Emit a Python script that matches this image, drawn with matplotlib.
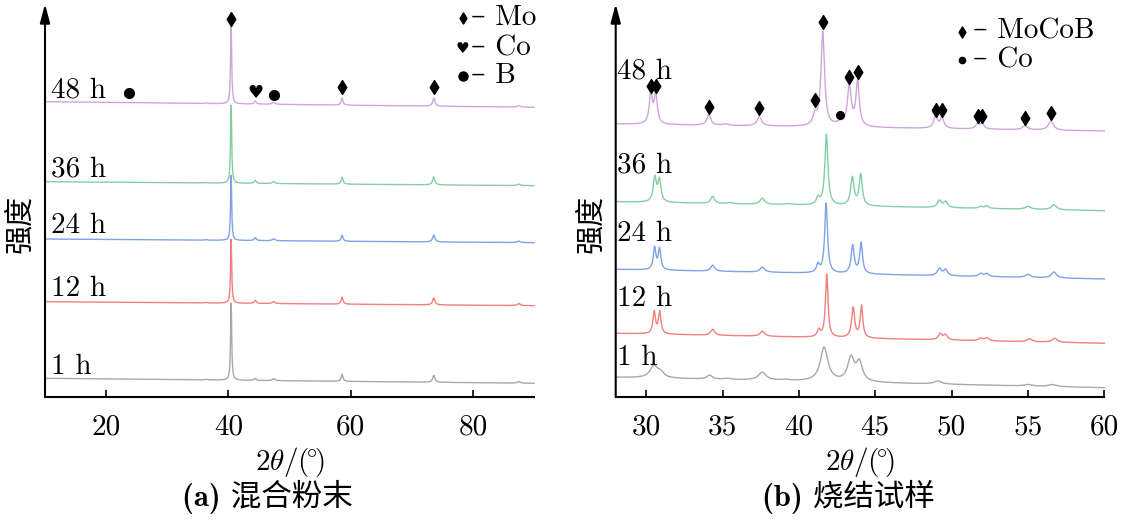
import numpy as np
import matplotlib
matplotlib.use("Agg")
import matplotlib.pyplot as plt
from matplotlib.path import Path

plt.rcParams['font.family'] = ['cmr10', 'Noto Sans CJK SC', 'DejaVu Serif']
plt.rcParams['mathtext.fontset'] = 'cm'
plt.rcParams['axes.unicode_minus'] = False

# ---------------- data: (a) mixed powder ----------------
a_labels = ['1 h', '12 h', '24 h', '36 h', '48 h']
a_base_start = [18.7, 95.3, 158.0, 215.3, 295.3]
a_base_end = [13.7, 91.3, 154.3, 211.3, 289.7]
a_peak_pos = [36.3, 40.45, 44.4, 47.4, 58.6, 73.6, 87.5]
a_peak_wid = [0.25, 0.11, 0.2, 0.25, 0.18, 0.22, 0.3]
a_h_1h = [0.6, 77, 2.0, 2.0, 7, 7, 1.5]
a_h_12h = [0.6, 64, 3.0, 2.0, 7, 7, 2.0]
a_h_24h = [0.6, 65, 3.0, 2.0, 6, 7, 1.5]
a_h_36h = [0.6, 78, 3.0, 2.0, 7, 8, 1.5]
a_h_48h = [0.6, 79, 3.0, 2.0, 7, 8, 1.5]
a_mo_x = [40.45, 58.6, 73.6]
a_mo_y = [378, 309.7, 309.7]
a_co_x = [44.5]
a_co_y = [304.3]
a_b_x = [23.8, 47.4]
a_b_y = [304.3, 302]
a_xticks = [20, 40, 60, 80]

# ---------------- data: (b) sintered samples ----------------
b_labels = ['1 h', '12 h', '24 h', '36 h', '48 h']
b_base_start = [19.7, 63.7, 127.7, 195.3, 273.0]
b_base_end = [9.3, 53.7, 118.0, 186.3, 266.0]
b_pos_1h = [30.5, 30.95, 34.15, 35.3, 37.6, 39.1, 41.65, 43.4, 43.95, 49.1, 55.0, 56.6]
b_h_1h = [12, 5, 4, 1, 8, 1, 34, 23, 19, 3, 1.5, 2]
b_w_1h = [0.3, 0.25, 0.2, 0.3, 0.3, 0.3, 0.3, 0.25, 0.25, 0.3, 0.3, 0.3]
b_pos_12h = [30.52, 30.88, 34.35, 37.6, 41.3, 41.82, 43.55, 44.1, 49.25, 49.6, 51.9, 52.3, 55.1, 56.75]
b_h_12h = [22, 22, 6, 5, 7, 63, 30, 32, 6, 5, 2.5, 3, 3, 4]
b_w_12h = [0.1, 0.1, 0.15, 0.18, 0.12, 0.1, 0.12, 0.1, 0.15, 0.15, 0.15, 0.15, 0.2, 0.2]
b_pos_24h = [30.55, 30.87, 34.35, 37.6, 41.25, 41.78, 43.52, 44.07, 49.2, 49.6, 51.9, 52.3, 55.0, 56.7]
b_h_24h = [22, 21, 6, 5, 8, 70, 28, 31, 7, 6, 3, 3, 3, 6]
b_w_24h = [0.1, 0.1, 0.15, 0.18, 0.12, 0.11, 0.12, 0.11, 0.15, 0.15, 0.15, 0.15, 0.2, 0.2]
b_pos_36h = [30.56, 30.86, 34.35, 35.5, 37.6, 39.3, 41.25, 41.8, 43.5, 44.05, 49.2, 49.6, 51.9, 52.3, 55.0, 56.7]
b_h_36h = [24, 22, 7, 1, 6, 1, 7, 71, 28, 31, 7, 6, 2, 2.5, 3, 5]
b_w_36h = [0.12, 0.12, 0.15, 0.2, 0.18, 0.3, 0.12, 0.12, 0.13, 0.12, 0.15, 0.15, 0.15, 0.15, 0.2, 0.2]
b_pos_48h = [30.3, 30.62, 34.1, 35.2, 37.4, 41.05, 41.56, 42.67, 43.3, 43.84, 48.95, 49.37, 51.7, 52.0, 54.8, 56.5]
b_h_48h = [31, 30, 11, 1.5, 9, 10, 94, 3, 40, 45, 12, 10, 5, 5, 4, 9]
b_w_48h = [0.12, 0.12, 0.15, 0.2, 0.18, 0.15, 0.14, 0.3, 0.15, 0.13, 0.15, 0.15, 0.15, 0.15, 0.2, 0.2]
b_mocob_x = [30.3, 30.62, 34.1, 37.4, 41.05, 41.56, 43.3, 43.84, 48.95, 49.37, 51.7, 52.0, 54.8, 56.5]
b_mocob_y = [311, 311, 290.3, 289, 297, 375.3, 320, 325.3, 287, 287, 281, 281, 278.7, 283.7]
b_co_x = [42.67]
b_co_y = [282]
b_xticks = [30, 35, 40, 45, 50, 55, 60]

colors = ['#a8a8a8', '#f28080', '#7fa3e6', '#84cfa2', '#cfa6dc']

diamond = Path([(0, 1), (0.62, 0), (0, -1), (-0.62, 0), (0, 1)],
               [Path.MOVETO, Path.LINETO, Path.LINETO, Path.LINETO, Path.CLOSEPOLY])


def profile(x, start, end, pos, h, w):
    y = start + (end - start) * (x - x[0]) / (x[-1] - x[0])
    for p, hh, ww in zip(pos, h, w):
        y = y + hh / (1.0 + ((x - p) / ww) ** 2)
    return y


W, H = 1127, 521
fig = plt.figure(figsize=(W / 100, H / 100), dpi=100)

y_bot = 397
y_top = 4
axa = fig.add_axes([45 / W, (H - y_bot) / H, (534 - 45) / W, (y_bot - y_top) / H])
axb = fig.add_axes([615.7 / W, (H - y_bot) / H, (1104.3 - 615.7) / W, (y_bot - y_top) / H])


def style(ax, xlim, ticks):
    ax.set_xlim(*xlim)
    ax.set_ylim(0, y_bot - y_top)
    for s in ['top', 'right', 'left']:
        ax.spines[s].set_visible(False)
    ax.spines['bottom'].set_linewidth(1.5)
    ax.set_yticks([])
    ax.set_xticks(ticks)
    ax.set_xticklabels([str(t) for t in ticks])
    ax.tick_params(axis='x', direction='in', length=5, width=1.2, pad=12,
                   labelsize=21)
    ax.annotate('', xy=(0, 1.0), xytext=(0, 0), xycoords='axes fraction',
                arrowprops=dict(arrowstyle='-|>,head_length=0.75,head_width=0.2',
                                color='k', lw=1.5, mutation_scale=15,
                                shrinkA=0, shrinkB=0))
    ax.set_xlabel(r'$2\theta/(\!{}^{\circ}\!)$', fontsize=21)
    ax.xaxis.set_label_coords(0.5, -0.122)
    ax.set_ylabel('强度', fontsize=21, family=['Noto Sans CJK SC'])
    ax.yaxis.set_label_coords(-0.02, 0.44)


style(axa, (10, 90), a_xticks)
style(axb, (28, 60), b_xticks)

# panel (a)
xa = np.linspace(10, 90, 8001)
a_heights = [a_h_1h, a_h_12h, a_h_24h, a_h_36h, a_h_48h]
a_label_y = [23, 101, 163.7, 220.3, 299.3]
for i in range(5):
    ya = profile(xa, a_base_start[i], a_base_end[i], a_peak_pos, a_heights[i], a_peak_wid)
    axa.plot(xa, ya, color=colors[i], lw=1.0, clip_on=False)
    axa.text(10.9, a_label_y[i], a_labels[i], fontsize=21, ha='left', va='baseline')

axa.plot(a_mo_x, a_mo_y, ls='none', marker=diamond, ms=10, color='k', clip_on=False)
axa.plot(a_b_x, a_b_y, ls='none', marker='o', ms=7, color='k', clip_on=False)
for x, y in zip(a_co_x, a_co_y):
    axa.text(x, y, '\u2665', family=['DejaVu Sans'], fontsize=13, ha='center', va='center')

# legend (a)
axa.plot([78.35], [378.7], marker=diamond, ms=8, color='k', clip_on=False)
axa.text(78.35, 348.7, '\u2665', family=['DejaVu Sans'], fontsize=11, ha='center', va='center')
axa.plot([78.35], [321], marker='o', ms=6.5, color='k', clip_on=False)
for yy, lab in zip([378.7, 348.7, 321], ['Mo', 'Co', 'B']):
    axa.text(79.7, yy, '\u2013 ' + lab, fontsize=21, ha='left', va='center',
             family=['cmr10', 'DejaVu Serif'])

# panel (b)
xb = np.linspace(28, 60, 6401)
b_pos = [b_pos_1h, b_pos_12h, b_pos_24h, b_pos_36h, b_pos_48h]
b_h = [b_h_1h, b_h_12h, b_h_24h, b_h_36h, b_h_48h]
b_w = [b_w_1h, b_w_12h, b_w_24h, b_w_36h, b_w_48h]
b_label_y = [32, 91, 156.3, 224.3, 318.7]
for i in range(5):
    yb = profile(xb, b_base_start[i], b_base_end[i], b_pos[i], b_h[i], b_w[i])
    axb.plot(xb, yb, color=colors[i], lw=1.0, clip_on=False)
    axb.text(28.1, b_label_y[i], b_labels[i], fontsize=21, ha='left', va='baseline')

axb.plot(b_mocob_x, b_mocob_y, ls='none', marker=diamond, ms=10, color='k', clip_on=False)
axb.plot(b_co_x, b_co_y, ls='none', marker='o', ms=5.5, color='k', clip_on=False)

# legend (b)
axb.plot([50.7], [365.3], marker=diamond, ms=8, color='k', clip_on=False)
axb.plot([50.7], [337], marker='o', ms=4.5, color='k', clip_on=False)
for yy, lab in zip([365.3, 337], ['MoCoB', 'Co']):
    axb.text(51.4, yy, '\u2013 ' + lab, fontsize=21, ha='left', va='center',
             family=['cmr10', 'DejaVu Serif'])

# captions
fig.text(0.237, (H - 497) / H, '(a) 混合粉末', fontsize=22, ha='center', va='center',
         family=['cmb10', 'Noto Sans CJK SC'])
fig.text(0.753, (H - 497) / H, '(b) 烧结试样', fontsize=22, ha='center', va='center',
         family=['cmb10', 'Noto Sans CJK SC'])

fig.savefig('out.png', dpi=100)
